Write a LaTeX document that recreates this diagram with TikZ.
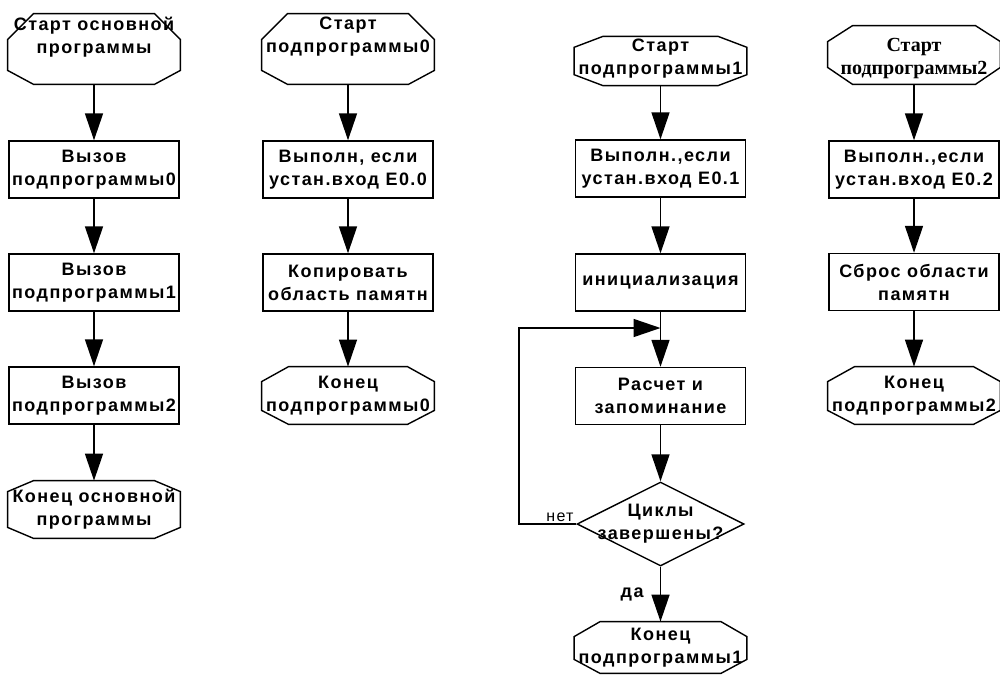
\documentclass[tikz,border=0pt]{standalone}
\usepackage{fontspec}
\newfontfamily\flowfont{Liberation Sans}[LetterSpace=8]
\newfontfamily\startfont{Liberation Serif}
\usetikzlibrary{arrows.meta, shapes.geometric}

% octagon frame round a named node: node, x cut, top y cut, bottom y cut
\newcommand{\octagonframe}[4]{%
  \draw[line width=0.7pt] ([xshift=#2]#1.north west) -- ([xshift=-#2]#1.north east)
    -- ([yshift=-#3]#1.north east) -- ([yshift=#4]#1.south east)
    -- ([xshift=-#2]#1.south east) -- ([xshift=#2]#1.south west)
    -- ([yshift=#4]#1.south west) -- ([yshift=-#3]#1.north west) -- cycle;}

\begin{document}
\begin{tikzpicture}[
  x=0.5pt, y=-0.5pt,
  >={Triangle[length=13.5pt,width=9pt]},
  font=\flowfont\bfseries\fontsize{9}{11.5}\selectfont,
  block/.style={
    rectangle, draw=black, line width=0.7pt,
    minimum width=85pt, minimum height=28.5pt,
    inner xsep=-15pt, inner ysep=1pt, align=center
  },
  term/.style={
    rectangle, minimum width=86pt, minimum height=28.5pt,
    inner xsep=-15pt, inner ysep=1pt, align=center
  },
  decision/.style={
    diamond, draw=black, line width=0.7pt,
    minimum width=83.5pt, minimum height=42pt,
    inner xsep=-30pt, inner ysep=-15pt, align=center
  },
  lbl/.style={font=\flowfont\fontsize{8}{10}\selectfont, inner sep=1pt},
  arrow/.style={->, line width=0.8pt}
]
\useasboundingbox (0,0) rectangle (1000,675);

% main program
\node[term, minimum height=35pt, text depth=14pt] (mainstart) at (94,49) {Старт основной\\программы};
\node[block] (call0) at (94,169.5) {Вызов\\подпрограммы0};
\node[block] (call1) at (94,282.5) {Вызов\\подпрограммы1};
\node[block] (call2) at (94,395.5) {Вызов\\подпрограммы2};
\node[term] (mainend) at (94,509.5) {Конец основной\\программы};

% subroutine 0
\node[term, minimum height=35pt, text depth=14pt] (substart0) at (348,49) {Старт\\подпрограммы0};
\node[block] (test0) at (348,169.5) {Выполн, если\\устан.вход E0.0};
\node[block] (copy0) at (348,282.5) {Копировать\\область памятн};
\node[term] (subend0) at (348,395.5) {Конец\\подпрограммы0};

% subroutine 1
\node[term, minimum height=22pt, text depth=4.5pt] (substart1) at (660.5,61) {Старт\\подпрограммы1};
\node[block] (test1) at (660.5,168.5) {Выполн.,если\\устан.вход E0.1};
\node[block] (init1) at (660.5,282.5) {инициализация};
\node[block] (calc1) at (660.5,396) {Расчет и\\запоминание};
\node[decision] (done1) at (660.5,524) {Циклы\\завершены?};
\node[term, minimum height=25.5pt] (subend1) at (660.5,647.5) {Конец\\подпрограммы1};
\coordinate (merge1) at (660.5,328);
\coordinate (back1) at (519,328);

% subroutine 2
\node[term, minimum height=29pt, text height=22pt,
  font=\startfont\bfseries\fontsize{10}{11.5}\selectfont] (substart2) at (914,55) {Старт\\подпрограммы2};
\node[block] (test2) at (914,169.5) {Выполн.,если\\устан.вход E0.2};
\node[block] (clear2) at (914,282) {Сброс области\\памятн};
\node[term] (subend2) at (914,395.5) {Конец\\подпрограммы2};

% frames of the terminators
\octagonframe{mainstart}{13pt}{13pt}{7pt}
\octagonframe{mainend}{13pt}{5.5pt}{5.5pt}
\octagonframe{substart0}{13pt}{13pt}{7pt}
\octagonframe{subend0}{13.5pt}{7.5pt}{7pt}
\octagonframe{substart1}{14.5pt}{5.5pt}{5.5pt}
\octagonframe{subend1}{13pt}{7.5pt}{7pt}
\octagonframe{substart2}{12.5pt}{8pt}{8.5pt}
\octagonframe{subend2}{13.5pt}{7.5pt}{7pt}

% arrows
\draw[arrow] (mainstart) -- (call0);
\draw[arrow] (call0) -- (call1);
\draw[arrow] (call1) -- (call2);
\draw[arrow] (call2) -- (mainend);

\draw[arrow] (substart0) -- (test0);
\draw[arrow] (test0) -- (copy0);
\draw[arrow] (copy0) -- (subend0);

\draw[arrow] (substart1) -- (test1);
\draw[arrow] (test1) -- (init1);
\draw[arrow] (init1) -- (calc1);
\draw[arrow] (calc1) -- (done1);
\draw[arrow] (done1.west) node[lbl, anchor=south east] (no1) {нет} -| (back1) -- (merge1);
\draw[arrow] (done1) -- (subend1);
\node[anchor=base east, inner sep=0pt] (yes1) at (644,597) {да};

\draw[arrow] (substart2) -- (test2);
\draw[arrow] (test2) -- (clear2);
\draw[arrow] (clear2) -- (subend2);

\end{tikzpicture}
\end{document}
